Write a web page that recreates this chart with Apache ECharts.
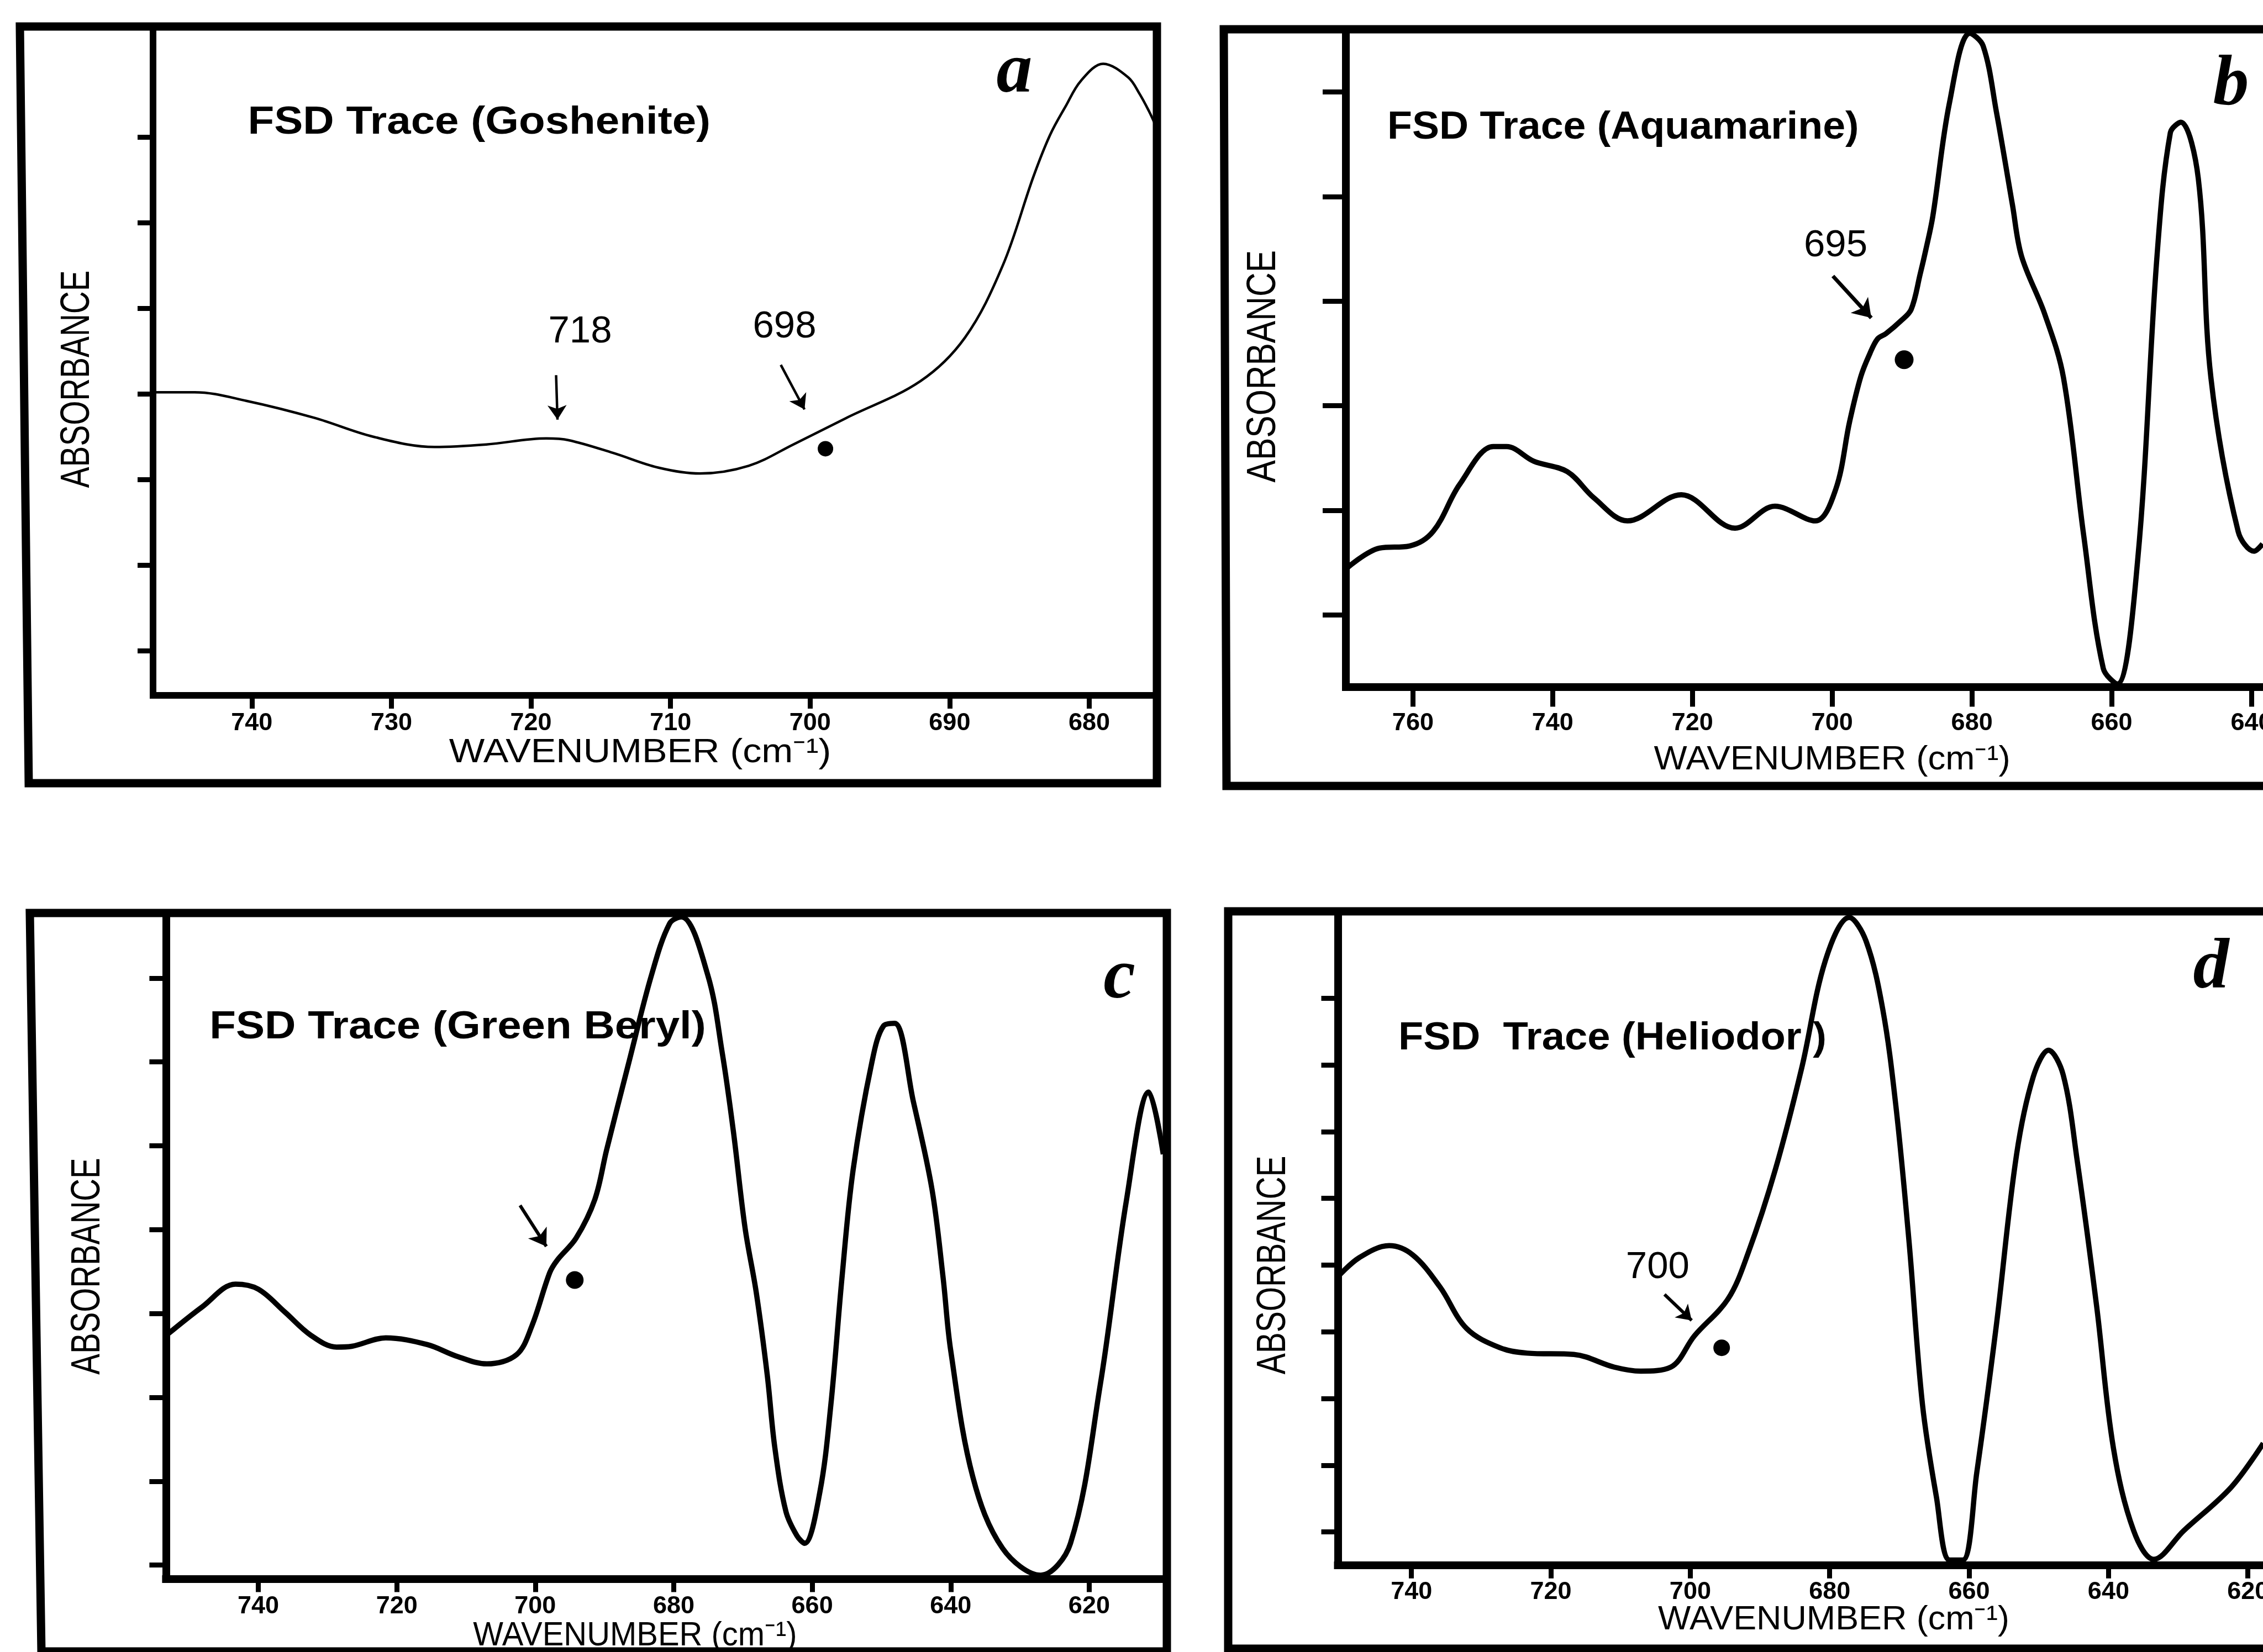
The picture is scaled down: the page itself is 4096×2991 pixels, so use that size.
<!DOCTYPE html>
<html>
<head>
<meta charset="utf-8">
<title>FSD traces</title>
<script src="https://cdn.jsdelivr.net/npm/echarts@6/dist/echarts.min.js"></script>
<style>
  html, body { margin: 0; padding: 0; background: #fff; }
  #chart { width: 4096px; height: 2991px; }
</style>
</head>
<body>
<div id="chart"></div>
<script>
// traces: wavenumber (cm-1) and absorbance in tick units (1 = lowest tick)
var aWave = [747.1, 744.1, 740.4, 735.5, 731.3, 726.9, 723.2, 718.9, 717.3, 714.1, 710.9, 707.9, 704.4, 701.2, 697.4, 692.1, 688.9, 686.2, 684.0, 682.8, 681.7, 680.6, 679.0, 677.2, 676.4, 675.7, 675.3];
var aAbs  = [4.02, 4.02, 3.92, 3.72, 3.50, 3.38, 3.41, 3.48, 3.46, 3.31, 3.14, 3.07, 3.16, 3.41, 3.72, 4.15, 4.66, 5.50, 6.54, 7.03, 7.36, 7.66, 7.86, 7.70, 7.51, 7.30, 7.16];

var bWave = [769.6, 764.8, 760.5, 757.1, 753.3, 748.5, 746.6, 742.7, 737.9, 734.1, 729.3, 721.6, 713.9, 708.2, 702.4, 699.5, 697.5, 695.9, 694.6, 693.5, 692.3, 690.2, 688.7, 687.4, 686.6, 685.6, 683.2, 680.3, 678.4, 676.5, 674.2, 672.9, 669.6, 666.9, 664.0, 661.2, 659.2, 656.3, 653.5, 651.6, 650.1, 647.6, 645.8, 641.9, 639.6, 638.4];
var bAbs  = [1.44, 1.64, 1.66, 1.80, 2.25, 2.61, 2.61, 2.47, 2.37, 2.12, 1.90, 2.15, 1.83, 2.04, 1.90, 2.20, 2.85, 3.28, 3.50, 3.64, 3.69, 3.81, 3.92, 4.26, 4.49, 4.81, 5.90, 6.56, 6.44, 5.81, 4.92, 4.43, 3.88, 3.27, 1.76, 0.49, 0.34, 1.51, 4.44, 5.61, 5.71, 5.17, 3.27, 1.80, 1.61, 1.68];

var cWave = [753.0, 748.1, 743.3, 740.0, 736.2, 732.4, 728.7, 726.5, 721.6, 715.6, 711.3, 707.0, 702.7, 700.5, 697.9, 696.8, 694.1, 691.4, 689.7, 686.5, 683.2, 680.6, 678.9, 675.1, 673.0, 671.4, 669.7, 668.1, 666.5, 665.4, 663.8, 662.2, 661.1, 658.9, 657.3, 655.7, 654.1, 651.4, 649.7, 648.1, 645.4, 642.7, 641.1, 640.0, 636.8, 632.5, 627.0, 622.7, 618.4, 614.6, 611.4, 609.3];
var cAbs  = [3.76, 4.08, 4.35, 4.29, 4.02, 3.74, 3.60, 3.61, 3.71, 3.63, 3.49, 3.40, 3.51, 3.85, 4.49, 4.64, 4.90, 5.36, 5.95, 6.99, 8.04, 8.65, 8.73, 8.04, 7.11, 6.18, 5.02, 4.26, 3.27, 2.40, 1.64, 1.35, 1.26, 1.87, 2.92, 4.43, 5.71, 6.99, 7.43, 7.46, 6.53, 5.48, 4.43, 3.56, 2.05, 1.20, 0.88, 1.26, 3.15, 5.36, 6.64, 5.90];

var dWave = [750.6, 747.5, 743.2, 739.8, 735.9, 732.1, 727.3, 723.4, 716.7, 710.9, 707.1, 702.8, 699.4, 694.6, 691.7, 687.8, 684.0, 680.6, 677.2, 674.8, 672.4, 670.5, 668.6, 666.7, 664.7, 662.8, 660.9, 658.9, 656.1, 653.2, 650.8, 648.6, 646.5, 644.5, 641.7, 639.3, 636.4, 633.5, 629.2, 622.4, 617.8];
var dAbs  = [4.82, 5.11, 5.29, 5.15, 4.67, 4.05, 3.76, 3.68, 3.66, 3.47, 3.41, 3.47, 3.94, 4.49, 5.18, 6.43, 7.96, 9.57, 10.21, 9.86, 8.84, 7.38, 5.33, 2.92, 1.53, 0.58, 0.58, 1.89, 4.09, 6.65, 7.82, 8.22, 7.85, 6.57, 4.38, 2.26, 1.02, 0.59, 1.02, 1.67, 2.33];

// tick values
var aTicksX = [740, 730, 720, 710, 700, 690, 680];
var bTicksX = [760, 740, 720, 700, 680, 660, 640];
var cTicksX = [740, 720, 700, 680, 660, 640, 620];
var dTicksX = [740, 720, 700, 680, 660, 640, 620];
var aTicksY = [1, 2, 3, 4, 5, 6, 7];
var bTicksY = [1, 2, 3, 4, 5, 6];
var cTicksY = [1, 2, 3, 4, 5, 6, 7, 8];
var dTicksY = [1, 2, 3, 4, 5, 6, 7, 8, 9];

// marked points and arrows (tail -> head)
var aDot = [698.9, 3.36];
var bDot = [689.7, 3.44];
var cDot = [694.3, 4.40];
var dDot = [695.5, 3.76];
var aArrows = [[[718.2, 4.22], [718.1, 3.70]], [[702.1, 4.34], [700.4, 3.82]]];
var bArrows = [[[699.9, 4.24], [694.4, 3.84]]];
var cArrows = [[[702.2, 5.29], [698.4, 4.80]]];
var dArrows = [[[703.7, 4.56], [699.8, 4.17]]];

var sans = '"Liberation Sans", Arial, Helvetica, sans-serif';
var serif = '"Liberation Serif", "Times New Roman", serif';

var chart = echarts.init(document.getElementById('chart'), null, { renderer: 'canvas' });

function pairs(xs, ys) {
  return xs.map(function (x, i) { return [x, ys[i]]; });
}

function xAxisOf(grid, min, max, ticks, lineW, tickLen, margin) {
  return {
    type: 'value', gridIndex: grid, min: min, max: max, inverse: true, position: 'bottom',
    axisLine: { show: true, onZero: false, lineStyle: { color: '#000', width: lineW, cap: 'square' } },
    axisTick: { show: true, customValues: ticks, length: tickLen, lineStyle: { color: '#000', width: 9 } },
    axisLabel: { show: true, customValues: ticks, margin: margin, color: '#000', fontSize: 45, fontWeight: 'bold', fontFamily: sans },
    splitLine: { show: false }
  };
}

function yAxisOf(grid, min, max, ticks, lineW, tickLen) {
  return {
    type: 'value', gridIndex: grid, min: min, max: max, position: 'left',
    axisLine: { show: true, onZero: false, lineStyle: { color: '#000', width: lineW, cap: 'square' } },
    axisTick: { show: true, customValues: ticks, length: tickLen, lineStyle: { color: '#000', width: 9 } },
    axisLabel: { show: false, customValues: ticks },
    splitLine: { show: false }
  };
}

function traceOf(grid, wave, abs, lineW, arrows, headSize, arrowW) {
  return {
    type: 'line', xAxisIndex: grid, yAxisIndex: grid,
    data: pairs(wave, abs), showSymbol: false, smooth: 0.35, silent: true,
    lineStyle: { color: '#000', width: lineW, join: 'round' },
    markLine: {
      silent: true, animation: false, symbol: ['none', 'arrow'], symbolSize: headSize,
      lineStyle: { color: '#000', width: arrowW, type: 'solid' }, label: { show: false },
      data: arrows.map(function (a) { return [{ coord: a[0] }, { coord: a[1] }]; })
    }
  };
}

function dotOf(grid, dot, size) {
  return {
    type: 'scatter', xAxisIndex: grid, yAxisIndex: grid, data: [dot],
    symbolSize: size, silent: true, itemStyle: { color: '#000', opacity: 1 }
  };
}

function txt(x, y, text, font, align, sx, sy, rot) {
  return {
    type: 'text', x: x, y: y, z: 100, scaleX: sx || 1, scaleY: sy || 1, rotation: rot || 0,
    style: {
      text: text, font: font, fill: '#000',
      align: align, textAlign: align, verticalAlign: 'middle', textVerticalAlign: 'middle'
    }
  };
}

function frame(points) {
  return {
    type: 'polygon', z: 90, shape: { points: points },
    style: { fill: 'none', stroke: '#000', lineWidth: 15, lineJoin: 'miter' }
  };
}

var titleFont = 'bold 71px ' + sans;
var letterFont = 'italic bold 130px ' + serif;
var axisFont = '75px ' + sans;
var wnFont = '61px ' + sans;
var noteFont = '69px ' + sans;
var wnText = 'WAVENUMBER (cm\u207B\u00B9)';

var option = {
  backgroundColor: '#fff',
  animation: false,
  grid: [
    { left: 277, top: 57.5, width: 1817, height: 1201.5, outerBoundsMode: 'none' },
    { left: 2436, top: 60, width: 1744, height: 1183.4, outerBoundsMode: 'none' },
    { left: 300.4, top: 1660.6, width: 1809.6, height: 1197.9, outerBoundsMode: 'none' },
    { left: 2421.5, top: 1660.6, width: 1758.5, height: 1173.1, outerBoundsMode: 'none' }
  ],
  xAxis: [
    xAxisOf(0, 675.15, 747.08, aTicksX, 12, 24, 28),
    xAxisOf(1, 631.7, 769.6, bTicksX, 14, 36, 44),
    xAxisOf(2, 608.94, 753.34, cTicksX, 14, 24, 28),
    xAxisOf(3, 611.18, 750.56, dTicksX, 14, 24, 26)
  ],
  yAxis: [
    yAxisOf(0, 0.477, 8.234, aTicksY, 12, 28),
    yAxisOf(1, 0.315, 6.561, bTicksY, 14, 42),
    yAxisOf(2, 0.837, 8.726, cTicksY, 14, 30),
    yAxisOf(3, 0.503, 10.213, dTicksY, 14, 30)
  ],
  series: [
    traceOf(0, aWave, aAbs, 4.5, aArrows, 26, 4.5),
    traceOf(1, bWave, bAbs, 9.5, bArrows, 32, 7),
    traceOf(2, cWave, cAbs, 9.5, cArrows, 30, 6),
    traceOf(3, dWave, dAbs, 9.5, dArrows, 26, 6),
    dotOf(0, aDot, 28),
    dotOf(1, bDot, 34),
    dotOf(2, cDot, 32),
    dotOf(3, dDot, 30)
  ],
  graphic: [
    frame([[36, 48], [2094, 48], [2094, 1418], [52, 1418]]),
    frame([[2215, 53], [4230, 53], [4230, 1423], [2220, 1423]]),
    frame([[54, 1653], [2112, 1653], [2112, 2990], [75, 2990]]),
    frame([[2223, 1650], [4230, 1650], [4230, 2985], [2223, 2985]]),

    txt(448.5, 222.6, 'FSD Trace (Goshenite)', titleFont, 'left', 1.10),
    txt(2511, 231.7, 'FSD Trace (Aquamarine)', titleFont, 'left', 1.035),
    txt(379.3, 1860, 'FSD Trace (Green Beryl)', titleFont, 'left', 1.10),
    txt(2531, 1880, 'FSD  Trace (Heliodor )', titleFont, 'left', 1.045),

    txt(1836, 132, 'a', letterFont, 'center'),
    txt(4038, 155, 'b', letterFont, 'center'),
    txt(2026, 1772, 'c', letterFont, 'center'),
    txt(4002, 1754, 'd', letterFont, 'center'),

    txt(140.8, 686.3, 'ABSORBANCE', axisFont, 'center', 0.756, 1, Math.PI / 2),
    txt(2287.2, 663.2, 'ABSORBANCE', axisFont, 'center', 0.807, 1, Math.PI / 2),
    txt(159.3, 2292.5, 'ABSORBANCE', axisFont, 'center', 0.753, 1, Math.PI / 2),
    txt(2305.6, 2290.4, 'ABSORBANCE', axisFont, 'center', 0.76, 1, Math.PI / 2),

    txt(1158.5, 1363.5, wnText, wnFont, 'center', 1.12),
    txt(3316.2, 1376.6, wnText, wnFont, 'center', 1.045),
    txt(1149.4, 2962, wnText, wnFont, 'center', 0.95),
    txt(3319, 2933.5, wnText, wnFont, 'center', 1.03),

    txt(1050, 600.8, '718', noteFont, 'center'),
    txt(1420, 592, '698', noteFont, 'center'),
    txt(3322.5, 444.6, '695', noteFont, 'center'),
    txt(3000.4, 2294.8, '700', noteFont, 'center')
  ]
};

chart.setOption(option);
</script>
</body>
</html>
